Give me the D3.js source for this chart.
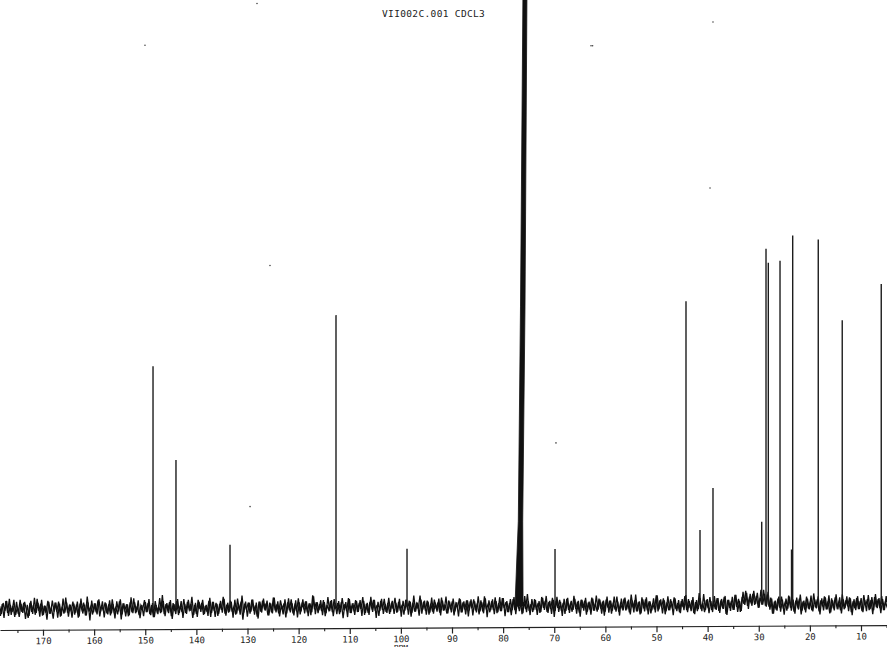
<!DOCTYPE html>
<html><head><meta charset="utf-8">
<script src="https://cdn.jsdelivr.net/npm/d3@7"></script>
<style>html,body{margin:0;padding:0;background:#fff;overflow:hidden;} svg{display:block;}</style>
</head><body>
<svg id="c" width="887" height="647"></svg>
<script>
// ---------- data ----------
const title = "VII002C.001 CDCL3";
const axisLabel = "PPM";
const tickValues = [170,160,150,140,130,120,110,100,90,80,70,60,50,40,30,20,10];
const minorTickValues = [175,165,155,145,135,125,115,105,95,85,75,65,55,45,35,25,15,5];

// peak positions (ppm) and heights (arbitrary intensity units)
const peakPpm =    [148.48,143.99,133.42,112.69,98.80,69.85,44.23,41.49,38.95,29.42,28.58,28.13,25.84,23.59,23.36,18.36,13.67,6.04];
const peakHeight = [242,   148,   63,    292,   58,   57,   304,  75,   117,  83,   356,  342,  344,  55,   369,  365,  284,  320];

// CDCl3 solvent signal outline (ppm, intensity)
const solventPpm =    [77.68,77.03,76.60,76.11,75.33,75.72,76.17,76.10];
const solventHeight = [0,    85,   300,  620,  620,  300,  85,   0];

// baseline noise: two sample sets from 178.5 ppm downward every 0.35 ppm (set B offset by half a step)
const noiseStartPpm = 178.5;
const noiseStepPpm = 0.35;
const noiseA = [
3,-5,6,-2,8,-7,4,-3,9,-6,2,-8,5,-4,7,-1,-9,6,-3,4,
-6,10,-2,5,-7,3,-4,8,-5,1,-10,6,-3,7,-8,2,-5,11,-4,3,
-2,7,-6,4,-9,5,-1,6,-7,12,-3,2,-6,5,-4,8,-8,3,-2,6,
-5,4,-7,9,-3,1,-6,7,-11,5,-2,4,-8,6,-4,10,-5,2,-7,3,
-1,8,-4,5,-6,3,-9,7,-3,2,-5,13,-6,4,-2,6,-8,5,-3,7,
-7,2,-4,9,-5,6,-2,4,-10,3,-6,8,-1,5,-7,2,-4,7,-9,6,
-3,5,-8,4,-2,11,-6,3,-5,7,-4,1,-7,9,-3,6,-12,4,-2,5,
-6,8,-3,2,-9,6,-4,7,-1,4,-8,5,-5,10,-3,3,-6,7,-2,4,
-10,5,-3,8,-6,2,-4,9,-7,3,-1,6,-5,4,-8,12,-2,5,-6,3,
-4,7,-9,2,-3,6,-5,8,-2,4,-7,5,-11,3,-4,9,-6,2,-3,7,
-5,4,-2,10,-8,3,-6,5,-1,7,-4,2,-9,6,-3,8,-5,4,-7,3,
-2,9,-6,5,-4,2,-8,7,-3,6,-10,4,-5,3,-2,11,-7,5,-4,6,
-8,3,-5,7,-2,4,-6,9,-4,2,-7,6,-3,5,-9,3,-1,8,-6,4,
-3,6,-10,5,-2,7,-4,3,-8,6,-5,10,-3,2,-6,5,-4,9,-7,3,
-5,8,-2,4,-6,3,-9,7,-4,5,-1,6,-8,4,-3,12,-5,2,-6,7,
-4,3,-7,9,-2,5,-6,4,-3,8,-11,5,-2,6,-5,3,-8,7,-4,2,
-6,10,-3,4,-7,6,-2,5,-9,3,-4,8,-5,2,-6,7,-3,4,-10,6,
-2,5,-8,3,-4,9,-6,2,-3,7,-5,4,-7,11,-2,5,-6,3,-9,8,
-3,6,-5,4,-8,2,-4,10,-6,5,-2,7,-9,3,-5,6,-3,8,-4,2,
-7,4,-2,9,-5,6,-3,5,-8,3,-6,12,-4,2,-7,5,-3,8,-5,4,
-4,7,-6,3,-2,8,-9,5,-3,4,-5,10,-2,6,-7,8,1,14,-1,7,
2,11,0,9,-3,7,1,15,-1,10,-2,7,-9,3,-5,6,-3,8,-4,2,
-6,9,-3,5,-7,4,-2,6,-10,3,-5,8,-4,2,-6,11,-3,5,-7,4,
-2,8,-5,3,-9,6,-4,7,-3,2,-6,10,-5,4,-2,7,-8,3,-4,6,
-5,3,-7,9,-2,5,-6,4,-10,7,-3,5,-4,8,-6,2,-3,6,-5,4
];
const noiseB = [
-7,5,-9,8,-4,10,-6,3,-8,7,-5,9,-3,6,-10,4,-7,8,-5,11,
-4,6,-8,9,-6,3,-11,7,-5,8,-3,6,-9,5,-7,10,-4,6,-8,4,
-9,5,-4,7,-8,10,-5,4,-7,6,-12,8,-4,5,-6,9,-3,7,-9,5,
-6,8,-5,4,-10,7,-3,9,-6,5,-8,4,-7,11,-5,6,-4,8,-10,3,
-8,6,-4,9,-7,5,-9,3,-6,10,-4,7,-8,5,-5,8,-11,4,-6,9,
-5,7,-10,4,-6,8,-3,11,-7,5,-9,6,-4,8,-6,3,-8,10,-5,6,
-9,4,-6,7,-5,9,-8,5,-4,6,-10,8,-6,4,-7,12,-5,6,-9,5,
-4,8,-7,5,-11,6,-5,9,-3,7,-8,4,-6,10,-5,6,-9,3,-7,8,
-6,9,-5,4,-8,7,-10,5,-4,8,-6,6,-9,4,-5,11,-7,5,-3,7,
-8,5,-6,10,-4,7,-9,4,-7,6,-5,9,-3,5,-10,8,-6,4,-8,6,
-5,7,-9,6,-6,4,-8,10,-5,7,-11,5,-4,8,-7,3,-6,9,-5,6,
-7,4,-5,8,-10,6,-4,7,-8,5,-6,11,-5,4,-9,7,-3,6,-8,5,
-6,9,-7,4,-5,8,-9,6,-4,10,-7,5,-6,8,-5,4,-10,7,-6,5,
-8,6,-4,7,-9,5,-6,10,-5,4,-7,8,-11,6,-4,7,-8,5,-6,9,
-5,8,-10,5,-6,7,-4,9,-8,6,-5,4,-7,10,-6,5,-9,7,-4,6,
-9,5,-6,8,-4,10,-7,5,-8,6,-5,9,-6,4,-10,7,-5,8,-7,5,
-4,7,-8,5,-11,6,-5,8,-6,4,-9,7,-5,10,-4,6,-8,5,-6,9,
-7,5,-5,9,-6,4,-10,7,-5,8,-4,6,-9,5,-7,11,-6,4,-8,6,
-6,8,-9,4,-5,7,-7,10,-4,6,-8,5,-6,9,-5,4,-10,7,-6,5,
-8,6,-5,10,-7,4,-6,8,-9,5,-4,7,-6,11,-5,6,-8,4,-7,9,
-5,7,-8,6,-4,9,-10,5,-6,8,-5,10,-7,4,-6,13,0,12,-4,11,
-1,14,1,12,-3,15,0,11,-2,13,-5,6,-9,4,-6,8,-7,5,-10,6,
-4,8,-6,5,-9,7,-5,10,-6,4,-8,6,-5,9,-7,5,-4,8,-10,6,
-6,7,-5,9,-8,4,-6,10,-5,7,-9,5,-4,8,-7,6,-11,5,-6,8,
-5,6,-8,4,-7,9,-5,7,-6,10,-4,6,-9,5,-6,8,-5,7,-8,4
];

// scan specks (ppm, intensity)
const speckPpm =    [128.14,150.05,62.81,62.5,38.95,39.53,125.6,129.5,69.66];
const speckHeight = [604,   563,   560,  560, 583,  417,  342,  101,  163];

// ---------- drawing ----------
const W = 887, H = 647;
const svg = d3.select("#c");
const x = d3.scaleLinear().domain([170, 10]).range([43, 861]);
const y = d3.scaleLinear().domain([0, 600]).range([609, 9]);
const xa = x.copy().domain([x.invert(0), x.invert(W)]).range([0, W]);

svg.append("defs").append("clipPath").attr("id","clip")
  .append("rect").attr("x",0).attr("y",0).attr("width",W).attr("height",H);

const g = svg.append("g").attr("clip-path","url(#clip)")
  .append("g").attr("transform","skewY(-0.32)");

// noise traces
const line = d3.line().x(d=>x(d[0])).y(d=>y(d[1]));
const traceA = noiseA.map((v,i)=>[noiseStartPpm - i*noiseStepPpm, v]);
const traceB = noiseB.map((v,i)=>[noiseStartPpm - (i+0.5)*noiseStepPpm, v]);
[traceA, traceB].forEach(t=>{
  g.append("path").attr("d", line(t))
    .attr("fill","none").attr("stroke","#111").attr("stroke-width",1.3)
    .attr("stroke-linejoin","miter");
});

// peaks
g.selectAll("line.peak").data(peakPpm.map((p,i)=>({p, h:peakHeight[i]})))
  .join("line").attr("class","peak")
  .attr("x1",d=>x(d.p)).attr("x2",d=>x(d.p))
  .attr("y1",y(0)).attr("y2",d=>y(d.h))
  .attr("stroke","#1c1c1c").attr("stroke-width",1.4);

// solvent
const solventPts = solventPpm.map((p,i)=>[p, solventHeight[i]]);
g.append("path")
  .attr("d", line(solventPts) + "Z")
  .attr("fill","#111").attr("stroke","#111").attr("stroke-width",0.8);

// specks
g.selectAll("circle.speck").data(speckPpm.map((p,i)=>({p,h:speckHeight[i]})))
  .join("circle").attr("class","speck")
  .attr("cx",d=>x(d.p)).attr("cy",d=>y(d.h)).attr("r",0.8).attr("fill","#444");

// axis
const font = "'DejaVu Sans Mono', monospace";
const ax = g.append("g").attr("transform","translate(0,630)")
  .call(d3.axisBottom(xa).tickValues(tickValues).tickSize(6).tickPadding(2).tickSizeOuter(0).tickFormat(d3.format("d")));
ax.select(".domain").attr("stroke","#222").attr("stroke-width",1.2);
ax.selectAll(".tick line").attr("stroke","#222").attr("stroke-width",1.2);
ax.selectAll(".tick text").attr("font-family",font).attr("font-size",9).attr("fill","#222");
const axm = g.append("g").attr("transform","translate(0,630)")
  .call(d3.axisBottom(xa).tickValues(minorTickValues).tickSize(3).tickFormat(""));
axm.select(".domain").remove();
axm.selectAll(".tick line").attr("stroke","#222").attr("stroke-width",1.1);

g.append("text").attr("x", x(100)).attr("y", 653)
  .attr("text-anchor","middle").attr("font-family",font).attr("font-size",8).attr("fill","#222")
  .text(axisLabel);

// title
svg.append("text").attr("x", 382).attr("y", 17)
  .attr("font-family",font).attr("font-size",9.5).attr("letter-spacing",0.35).attr("fill","#222")
  .text(title);
</script>
</body></html>
